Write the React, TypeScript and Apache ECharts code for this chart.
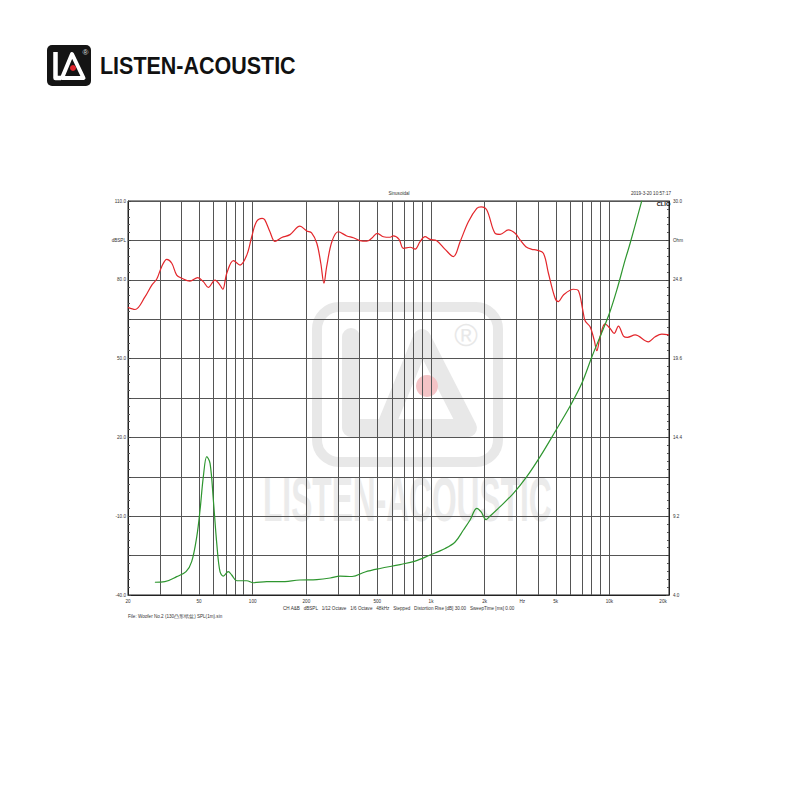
import React, { useEffect, useRef } from 'react';
import * as echarts from 'echarts';

// SPL response (left axis, dB SPL)
const SPL_FREQ = [20, 21.9, 24.9, 27.2, 29, 30.9, 33, 35.2, 37.5, 40, 44.5, 49.2, 52.9, 56.4, 61.5, 65.6, 68, 71.6, 78, 85, 92.7, 98.8, 105, 113, 117, 125, 133.5, 145.6, 162, 184, 201, 214, 229, 241, 251, 260, 278, 302, 337, 367, 400, 436, 465, 500, 541, 590, 615, 662, 700, 764, 815, 868, 926, 988, 1077, 1200, 1335, 1456, 1620, 1806, 1910, 2055, 2288, 2441, 2716, 2962, 3158, 3402, 3674, 3920, 4268, 4554, 4966, 5181, 5527, 6291, 6708, 7096, 7311, 7800, 8218, 8508, 8872, 9464, 10094, 10636, 11244, 11996, 12620, 13948, 16560, 18058, 19694, 21600];
const SPL_DB = [69.5, 68.7, 73.5, 78, 80.3, 85, 87.8, 86.3, 81.8, 80.6, 79.5, 80.8, 79.3, 77.1, 79.9, 78, 76.4, 82.5, 87.3, 85.6, 89.4, 96.4, 102.1, 103.4, 102.8, 98.3, 94.6, 96.1, 97.2, 100.4, 98.6, 97.9, 93.9, 86.3, 78.7, 85, 94.5, 98.3, 96.7, 96, 94.9, 94.7, 95.8, 97.7, 96.4, 96.2, 96.7, 95.4, 92, 92.4, 91.7, 94.5, 96.4, 95.4, 94.9, 91.6, 88.8, 94.5, 102.1, 107.2, 107.8, 106.6, 97.7, 97.3, 99, 97.7, 95.2, 92.6, 91.6, 91.3, 90.1, 82.5, 73, 71.7, 74.2, 76.4, 75.8, 68.5, 64.4, 62.1, 57.1, 53, 58.3, 63.2, 61.5, 59.6, 62.4, 58.6, 58.1, 59, 56.4, 58.3, 59.3, 59];

// Impedance (right axis, Ohm)
const IMP_FREQ = [28.3, 32.2, 37.5, 42.3, 45.5, 48.6, 50.7, 52.9, 55.3, 57.7, 60.2, 62.9, 65.6, 68.5, 73, 76.3, 81.4, 92.7, 100.9, 120, 142.4, 184, 229, 272, 309, 361, 427, 518, 671, 815, 988, 1200, 1365, 1519, 1656, 1806, 1910, 2036, 2144, 2441, 2898, 3444, 4090, 5028, 6026, 7008, 7974, 8955, 10012, 11015, 12262, 13080, 15208];
const IMP_OHM = [4.84, 4.88, 5.21, 5.54, 6.2, 7.85, 9.61, 11.81, 13.13, 12.69, 10.27, 7.41, 5.54, 5.25, 5.54, 5.32, 4.94, 4.94, 4.81, 4.88, 4.88, 4.99, 5.02, 5.12, 5.25, 5.22, 5.52, 5.75, 6.01, 6.24, 6.64, 7.07, 7.5, 8.29, 8.95, 9.72, 9.48, 8.98, 9.21, 9.83, 10.71, 11.81, 13.13, 14.89, 16.47, 17.97, 19.71, 21.16, 22.59, 24.13, 26.11, 27.21, 30.03];

// Axes
const F_MIN = 20;
const F_MAX = 21600;
const GRID_FREQS = [30, 40, 50, 60, 70, 80, 90, 100, 200, 300, 400, 500, 600, 700, 800, 900, 1000, 2000, 3000, 4000, 5000, 6000, 7000, 8000, 9000, 10000];
const X_LABEL_FREQS = [20, 50, 100, 200, 500, 1000, 2000, 3250, 5000, 10000, 20000];
const X_LABEL_TEXTS = ['20', '50', '100', '200', '500', '1k', '2k', 'Hz', '5k', '10k', '20k'];
const DB_MIN = -40;
const DB_MAX = 110;
const DB_STEP = 15;
const DB_UNIT_VALUE = 95;
const OHM_MIN = 4;
const OHM_MAX = 30;
const OHM_STEP = 2.6;
const OHM_UNIT_INDEX = 9;

const TITLE = 'Sinusoidal';
const DATE_TEXT = '2019-3-20 10:57:17';
const BRAND = 'LISTEN-ACOUSTIC';
const FOOTER_INFO = 'CH A&B   dBSPL   1/12 Octave   1/6 Octave   48kHz   Stepped   Distortion Rise [dB] 30.00   SweepTime [ms] 0.00';
const FILE_INFO = 'File: Woofer No.2 (130凸形纸盆) SPL(1m).sin';

const FONT = '"Liberation Sans", Arial, sans-serif';
const WM = '#e8e8e8';
const FS = 4.6;

export default function App() {
  const ref = useRef<HTMLDivElement>(null);

  useEffect(() => {
    if (!ref.current) return;
    const chart = echarts.init(ref.current, null, { renderer: 'svg' });

    const splData = SPL_FREQ.map((f, i) => [Math.log10(f), SPL_DB[i] - DB_MIN]);
    const impData = IMP_FREQ.map((f, i) => [Math.log10(f), IMP_OHM[i] - OHM_MIN]);
    const xLabelLogs = X_LABEL_FREQS.map((f) => Math.log10(f));

    const smallText = { fontSize: FS, color: '#333', fontFamily: FONT };

    const option: any = {
      animation: false,
      backgroundColor: '#fff',
      textStyle: { fontFamily: FONT },
      grid: {
        left: 128,
        top: 201,
        right: 131,
        bottom: 205,
        show: true,
        borderColor: '#222',
        borderWidth: 1,
        backgroundColor: 'transparent',
      },
      xAxis: {
        type: 'value',
        min: Math.log10(F_MIN),
        max: Math.log10(F_MAX),
        splitLine: { show: false },
        axisLine: { show: true, lineStyle: { color: '#222', width: 1 } },
        axisTick: { show: false, customValues: xLabelLogs },
        axisLabel: {
          ...smallText,
          margin: 4,
          customValues: xLabelLogs,
          formatter: (v: number) => {
            const i = xLabelLogs.findIndex((l) => Math.abs(l - v) < 1e-6);
            return i >= 0 ? X_LABEL_TEXTS[i] : '';
          },
        },
      },
      yAxis: [
        {
          type: 'value',
          position: 'left',
          min: 0,
          max: DB_MAX - DB_MIN,
          interval: DB_STEP,
          axisLine: { show: true, lineStyle: { color: '#222', width: 1 } },
          axisTick: { show: true, inside: true, length: 3, lineStyle: { color: '#444' } },
          minorTick: { show: true, splitNumber: 5, length: 2, lineStyle: { color: '#555' } },
          splitLine: { show: true, lineStyle: { color: '#555', width: 1 } },
          axisLabel: {
            ...smallText,
            margin: 2,
            formatter: (v: number) => {
              const d = Math.round(v + DB_MIN);
              if (d === DB_UNIT_VALUE) return 'dBSPL';
              return Math.round(v) % (2 * DB_STEP) === 0 ? d.toFixed(1) : '';
            },
          },
        },
        {
          type: 'value',
          position: 'right',
          min: 0,
          max: OHM_MAX - OHM_MIN,
          interval: OHM_STEP,
          axisLine: { show: true, lineStyle: { color: '#222', width: 1 } },
          axisTick: { show: true, inside: true, length: 3, lineStyle: { color: '#444' } },
          minorTick: { show: true, splitNumber: 5, length: 2, lineStyle: { color: '#555' } },
          splitLine: { show: false },
          axisLabel: {
            ...smallText,
            margin: 4,
            formatter: (v: number) => {
              const idx = Math.round(v / OHM_STEP);
              if (idx === OHM_UNIT_INDEX) return 'Ohm';
              return idx % 2 === 0 ? (v + OHM_MIN).toFixed(1) : '';
            },
          },
        },
      ],
      series: [
        {
          type: 'line',
          name: 'grid',
          data: [],
          z: 1,
          silent: true,
          markLine: {
            z: 1,
            silent: true,
            symbol: ['none', 'none'],
            label: { show: false },
            lineStyle: { color: '#555', width: 1, type: 'solid' },
            data: GRID_FREQS.map((f) => ({ xAxis: Math.log10(f) })),
          },
        },
        {
          type: 'line',
          name: 'SPL',
          yAxisIndex: 0,
          data: splData,
          showSymbol: false,
          smooth: 0.35,
          clip: true,
          z: 3,
          lineStyle: { color: '#e3262b', width: 1.2 },
        },
        {
          type: 'line',
          name: 'Impedance',
          yAxisIndex: 1,
          data: impData,
          showSymbol: false,
          smooth: 0.35,
          clip: true,
          z: 3,
          lineStyle: { color: '#2e962f', width: 1.2 },
        },
      ],
      graphic: [
        // watermark
        {
          type: 'rect', z: -10, silent: true,
          shape: { x: 317, y: 307, width: 181, height: 155, r: 22 },
          style: { fill: 'none', stroke: WM, lineWidth: 10 },
        },
        {
          type: 'polyline', z: -10, silent: true,
          shape: { points: [[351, 337], [351, 428], [385, 428]] },
          style: { fill: 'none', stroke: WM, lineWidth: 18, lineJoin: 'round', lineCap: 'round' },
        },
        {
          type: 'polygon', z: -10, silent: true,
          shape: { points: [[385, 428], [422, 338], [468, 428]] },
          style: { fill: 'none', stroke: WM, lineWidth: 18, lineJoin: 'round' },
        },
        {
          type: 'circle', z: -9, silent: true,
          shape: { cx: 427, cy: 386, r: 11 },
          style: { fill: '#f4c3c6' },
        },
        {
          type: 'text', z: -10, silent: true, x: 466, y: 335,
          style: { text: '®', fontSize: 32, fill: WM, align: 'center', verticalAlign: 'middle', fontFamily: FONT },
        },
        {
          type: 'text', z: -10, silent: true, x: 263, y: 500, scaleX: 0.503,
          style: { text: BRAND, fontSize: 63, fontWeight: 'bold', fill: '#ebebeb', align: 'left', verticalAlign: 'middle', fontFamily: FONT },
        },
        // header logo
        {
          type: 'rect', silent: true,
          shape: { x: 47, y: 45, width: 44, height: 41, r: 5 },
          style: { fill: '#141414' },
        },
        {
          type: 'polyline', silent: true,
          shape: { points: [[55.5, 52], [55.5, 78], [61, 78]] },
          style: { fill: 'none', stroke: '#fff', lineWidth: 4.5, lineJoin: 'round' },
        },
        {
          type: 'polygon', silent: true,
          shape: { points: [[62, 78], [72, 54], [83.5, 78]] },
          style: { fill: 'none', stroke: '#fff', lineWidth: 4, lineJoin: 'round' },
        },
        {
          type: 'circle', silent: true,
          shape: { cx: 73, cy: 68, r: 3 },
          style: { fill: '#e0242b' },
        },
        {
          type: 'text', silent: true, x: 85.5, y: 52.5,
          style: { text: '®', fontSize: 8, fill: '#ddd', align: 'center', verticalAlign: 'middle', fontFamily: FONT },
        },
        {
          type: 'text', silent: true, x: 100, y: 66, scaleX: 0.895,
          style: { text: BRAND, fontSize: 24, fontWeight: 'bold', fill: '#111', align: 'left', verticalAlign: 'middle', fontFamily: FONT },
        },
        // plot header texts
        {
          type: 'text', silent: true, x: 399, y: 193,
          style: { text: TITLE, fontSize: FS, fill: '#333', align: 'center', verticalAlign: 'middle', fontFamily: FONT },
        },
        {
          type: 'text', silent: true, x: 671, y: 193,
          style: { text: DATE_TEXT, fontSize: FS, fill: '#333', align: 'right', verticalAlign: 'middle', fontFamily: FONT },
        },
        {
          type: 'text', silent: true, x: 670.5, y: 203.5, z: 10,
          style: { text: 'CLIO', fontSize: 5.8, fontWeight: 'bold', fill: '#111', align: 'right', verticalAlign: 'middle', fontFamily: FONT },
        },
        // footer texts
        {
          type: 'text', silent: true, x: 283, y: 608,
          style: { text: FOOTER_INFO, fontSize: FS, fill: '#333', align: 'left', verticalAlign: 'middle', fontFamily: FONT },
        },
        {
          type: 'text', silent: true, x: 128, y: 616,
          style: { text: FILE_INFO, fontSize: FS, fill: '#333', align: 'left', verticalAlign: 'middle', fontFamily: FONT },
        },
      ],
    };

    chart.setOption(option);
    return () => chart.dispose();
  }, []);

  return (
    <div
      ref={ref}
      style={{ position: 'absolute', left: 0, top: 0, width: 800, height: 800, background: '#fff' }}
    />
  );
}
